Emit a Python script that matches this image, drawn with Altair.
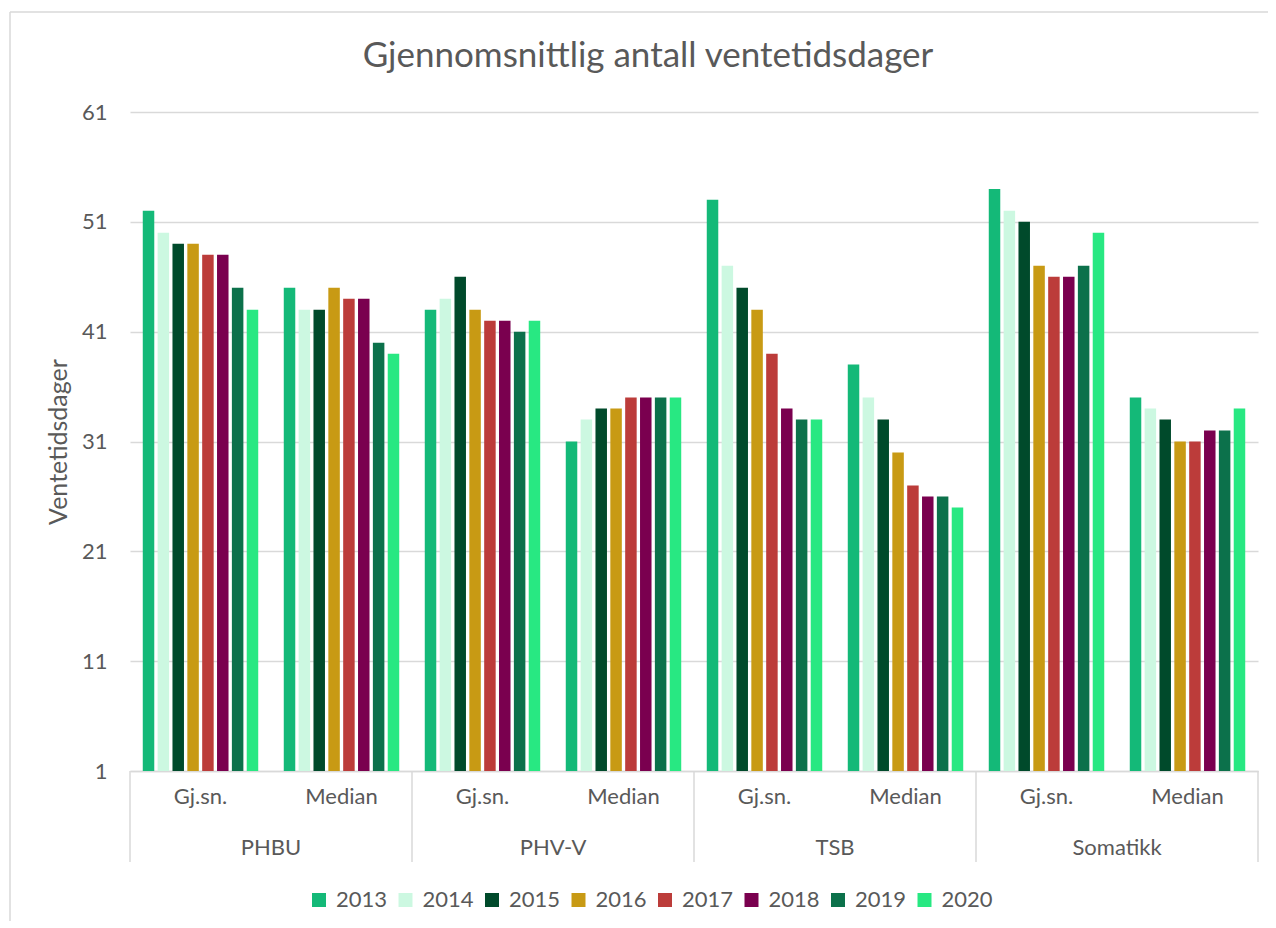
import altair as alt
import pandas as pd

categories = ["PHBU", "PHV-V", "TSB", "Somatikk"]
measures = ["Gj.sn.", "Median"]
years = ["2013", "2014", "2015", "2016", "2017", "2018", "2019", "2020"]

# values per year, in group order: PHBU Gj.sn., PHBU Median, PHV-V Gj.sn., PHV-V Median,
# TSB Gj.sn., TSB Median, Somatikk Gj.sn., Somatikk Median
v2013 = [52, 45, 43, 31, 53, 38, 54, 35]
v2014 = [50, 43, 44, 33, 47, 35, 52, 34]
v2015 = [49, 43, 46, 34, 45, 33, 51, 33]
v2016 = [49, 45, 43, 34, 43, 30, 47, 31]
v2017 = [48, 44, 42, 35, 39, 27, 46, 31]
v2018 = [48, 44, 42, 35, 34, 26, 46, 32]
v2019 = [45, 40, 41, 35, 33, 26, 47, 32]
v2020 = [43, 39, 42, 35, 33, 25, 50, 34]
series = [v2013, v2014, v2015, v2016, v2017, v2018, v2019, v2020]

colors = ["#14B978", "#CCF8E1", "#004A2B", "#C89A14", "#BC3C3A", "#7A004F", "#0C714B", "#28E882"]
y_ticks = [1, 11, 21, 31, 41, 51, 61]

groups = [f"{c}|{m}" for c in categories for m in measures]
rows = []
for yr, vals in zip(years, series):
    for g, v in zip(groups, vals):
        rows.append({"grp": g, "year": yr, "value": v})
df = pd.DataFrame(rows)

W, H = 1128, 659
TXT = "#595959"
GRID = "#D9D9D9"
FONT = "Lato"

xscale = alt.Scale(domain=groups, paddingInner=0, paddingOuter=0)

bars = alt.Chart(df).mark_bar().encode(
    x=alt.X("grp:N", scale=xscale, sort=groups,
            axis=alt.Axis(title=None, labelExpr="split(datum.label, '|')[1]", ticks=False,
                          labelAngle=0, labelFontSize=22, labelColor=TXT, labelFont=FONT,
                          labelPadding=15, domainColor=GRID, domainWidth=1.5, grid=False)),
    xOffset=alt.XOffset("year:N", sort=years,
                        scale=alt.Scale(domain=years, paddingInner=0.226, paddingOuter=0.86)),
    y=alt.Y("value:Q", scale=alt.Scale(domain=[1, 61], zero=False, nice=False),
            axis=alt.Axis(values=y_ticks, title="Ventetidsdager", titleFontSize=25,
                          titleFont=FONT, titleColor=TXT, titleFontWeight="normal",
                          titlePadding=10, labelFontSize=22, labelColor=TXT, labelFont=FONT,
                          labelPadding=23, ticks=False, domain=False,
                          gridColor=GRID, gridWidth=1.5)),
    y2=alt.datum(1),
    color=alt.Color("year:N", sort=years, scale=alt.Scale(domain=years, range=colors),
                    legend=alt.Legend(title=None, orient="none", legendX=178, legendY=777,
                                      direction="horizontal", symbolType="square",
                                      symbolSize=196, symbolStrokeWidth=0,
                                      labelFontSize=22, labelColor=TXT, labelFont=FONT,
                                      columnPadding=6.5, labelOffset=6)),
)

sep_left = pd.DataFrame({"grp": [f"{c}|Gj.sn." for c in categories]})
sep_right = pd.DataFrame({"grp": [f"{categories[-1]}|Median"]})

rules_l = alt.Chart(sep_left).mark_rule(color=GRID, strokeWidth=1.5).encode(
    x=alt.X("grp:N", scale=xscale, bandPosition=0),
    y=alt.value(H), y2=alt.value(H + 91))
rules_r = alt.Chart(sep_right).mark_rule(color=GRID, strokeWidth=1.5).encode(
    x=alt.X("grp:N", scale=xscale, bandPosition=1),
    y=alt.value(H), y2=alt.value(H + 91))

outer = pd.DataFrame({"grp": [f"{c}|Median" for c in categories], "cat": categories})
outer_text = alt.Chart(outer).mark_text(fontSize=22, color=TXT, font=FONT, baseline="middle").encode(
    x=alt.X("grp:N", scale=xscale, bandPosition=0),
    y=alt.value(H + 77),
    text="cat:N")

border = alt.Chart(pd.DataFrame({"a": [0]})).mark_rule(color=GRID, strokeWidth=1.5).encode(
    x=alt.value(-120), y=alt.value(-100), y2=alt.value(H + 160))
border_top = alt.Chart(pd.DataFrame({"a": [0]})).mark_rule(color=GRID, strokeWidth=1.5).encode(
    x=alt.value(-120), x2=alt.value(W + 30), y=alt.value(-100))

chart = alt.layer(bars, rules_l, rules_r, outer_text, border, border_top).properties(
    width=W, height=H,
    background="white",
    title=alt.Title("Gjennomsnittlig antall ventetidsdager", fontSize=35, font=FONT,
                    color=TXT, fontWeight="normal", anchor="middle", frame="group",
                    dx=-46, offset=-63),
    autosize=alt.AutoSizeParams(type="none"),
    padding={"left": 122, "top": 104, "right": 10, "bottom": 150},
).configure_view(strokeWidth=0, stroke="transparent")

chart.save("out.html", embed_options={"renderer": "svg", "actions": False})
